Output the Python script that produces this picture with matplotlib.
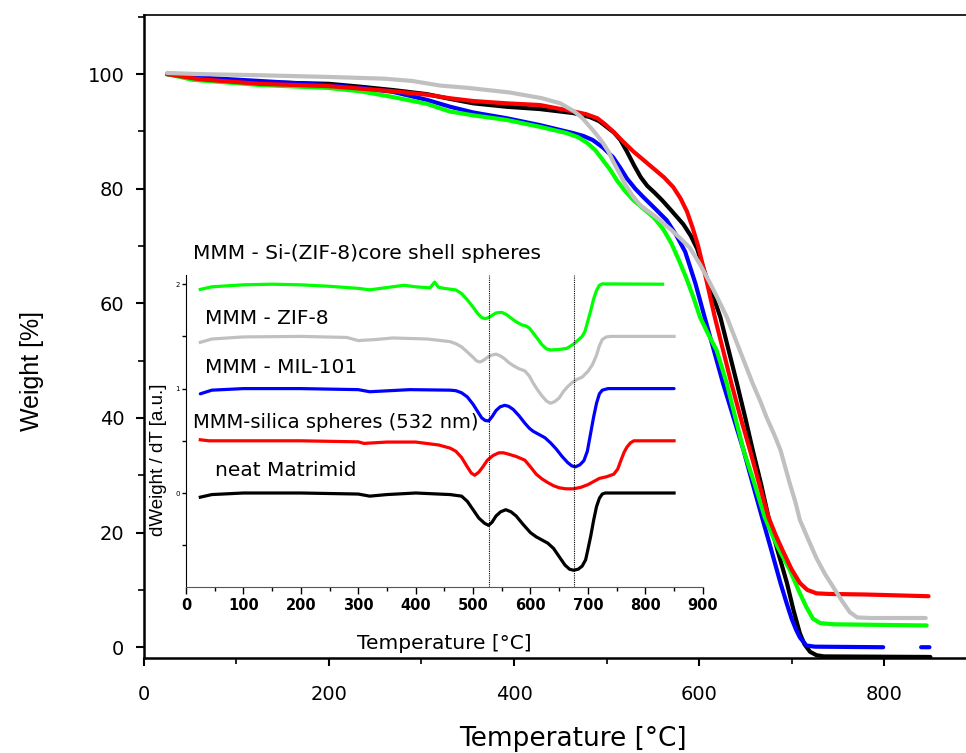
import numpy as np
import matplotlib.pyplot as plt
from matplotlib.ticker import MultipleLocator

# --- TGA curves (main plot): temperature [°C], weight [%] ---
black_T = [25, 60, 125, 200, 234, 270, 306, 330, 356, 392, 428, 464, 482, 492, 500, 508, 515, 522, 530, 537, 544,
           552, 560, 570, 583, 591, 598, 606, 614, 623, 632, 641, 650, 658, 667, 675, 685, 695, 702, 709, 714, 720,
           727, 735, 850]
black_W = [100, 99.3, 98.6, 98.3, 97.8, 97.2, 96.5, 95.7, 94.9, 94.3, 93.9, 93.2, 92.5, 91.8, 90.8, 89.8, 88.5,
           86.5, 84, 82, 80.5, 79.3, 78, 76.2, 73.8, 71.8, 69.5, 65.5, 61.8, 57.6, 51.8, 46, 40, 34.4, 28.5, 22.7,
           16.8, 11.2, 6.5, 2.4, 0.5, -0.8, -1.4, -1.6, -1.7]

red_T = [25, 60, 125, 200, 270, 306, 330, 356, 392, 428, 464, 478, 490, 498, 507, 518, 529, 540, 551, 562, 572,
         580, 587, 593, 599, 608, 617, 626, 635, 645, 655, 665, 675, 683, 690, 700, 709, 717, 727, 740, 780, 848]
red_W = [100, 99.1, 98.3, 97.9, 97.0, 96.4, 95.8, 95.3, 94.9, 94.6, 93.5, 93.0, 92.3, 91.3, 90, 88.2, 86.5, 85,
         83.5, 82, 80.3, 78.3, 76, 73.2, 70, 64, 57.6, 51.8, 46, 40, 34.4, 28.5, 22.7, 19.5, 17, 13.6, 11.2, 10,
         9.4, 9.3, 9.2, 8.9]

blue_T = [25, 60, 125, 198, 234, 269, 306, 331, 356, 392, 428, 464, 475, 485, 496, 507, 515, 522, 531, 540, 552,
          565, 575, 585, 596, 606, 616, 626, 637, 648, 658, 668, 678, 688, 695, 700, 705, 709, 716, 725, 799,
          np.nan, 840, 849]
blue_W = [100, 99.4, 98.8, 98.1, 97.6, 96.9, 95.5, 94.3, 93.3, 92.3, 91.1, 89.7, 89.2, 88.5, 87.2, 85.5, 83.6,
          81.8, 80, 78.5, 76.6, 74.5, 72, 69.0, 63.5, 57.6, 51.8, 46, 40.2, 34.4, 28.5, 22.7, 17, 11.2, 7.5, 5, 3,
          1.7, 0.3, 0.1, 0, np.nan, 0, 0]

green_T = [25, 53, 125, 198, 234, 269, 306, 330, 356, 392, 428, 457, 469, 479, 488, 496, 504, 511, 520, 529, 540,
           551, 561, 570, 578, 586, 594, 601, 610, 619, 630, 639, 648, 660, 671, 678, 685, 698, 709, 716, 723, 731,
           746, 846]
green_W = [100, 99.0, 98.1, 97.6, 97.0, 96.0, 94.8, 93.5, 92.8, 92.0, 90.8, 89.7, 89.0, 88.0, 86.7, 85.0, 83.3,
           81.5, 79.6, 78, 76.5, 75, 73, 70.5, 67.6, 64.5, 61, 57.6, 54.6, 51.8, 46, 40.2, 34.4, 28.5, 22.7, 20,
           17.5, 13.5, 9.4, 7, 5, 4.2, 4.0, 3.8]

gray_T = [25, 60, 125, 200, 260, 290, 320, 350, 395, 430, 450, 465, 474, 482, 489, 496, 502, 507, 514, 520, 528,
          536, 543, 550, 560, 570, 580, 590, 601, 612, 621, 630, 637, 644, 651, 658, 666, 673, 681, 688, 693, 698,
          704, 709, 718, 727, 736, 745, 754, 763, 771, 785, 845]
gray_W = [100.2, 100, 99.8, 99.5, 99.2, 98.8, 98.0, 97.6, 96.8, 95.8, 94.9, 93.5, 92.3, 90.8, 89.5, 88, 86.5,
          84.8, 82.7, 80.8, 78.8, 77.2, 76.3, 75.5, 74.2, 72.8, 71.3, 69.7, 66.8, 63.5, 60.6, 57.6, 54.7, 51.8,
          48.9, 46, 43, 40.1, 37.2, 34.4, 31.5, 28.6, 25.4, 22.2, 18.8, 15.5, 12.8, 10.5, 8.2, 6.1, 5.2, 5.1, 5.1]

# --- DTG curves (inset): temperature [°C], dW/dT relative to each curve's baseline [a.u.] ---
dtg_black_T = [25, 45, 100, 200, 300, 320, 350, 400, 460, 480, 490, 500, 510, 520, 527, 533, 540, 548, 557, 566,
               575, 587, 600, 610, 620, 630, 640, 650, 660, 668, 675, 683, 690, 696, 700, 705, 710, 715, 720, 725,
               730, 850]
dtg_black = [-0.04, -0.015, 0, 0, -0.01, -0.03, -0.015, 0, -0.015, -0.03, -0.08, -0.16, -0.24, -0.29, -0.31,
             -0.28, -0.22, -0.18, -0.16, -0.18, -0.22, -0.3, -0.38, -0.42, -0.45, -0.48, -0.53, -0.61, -0.69,
             -0.73, -0.74, -0.73, -0.70, -0.64, -0.54, -0.41, -0.26, -0.13, -0.05, -0.01, 0, 0]

dtg_red_T = [25, 40, 100, 200, 300, 310, 350, 400, 440, 460, 470, 480, 490, 497, 503, 510, 517, 525, 535, 545,
             553, 560, 575, 590, 600, 610, 620, 630, 640, 650, 662, 675, 688, 700, 710, 720, 732, 745, 752, 758,
             763, 768, 774, 780, 850]
dtg_red = [0.01, 0, 0, 0, -0.01, -0.025, -0.012, -0.012, -0.04, -0.07, -0.1, -0.16, -0.25, -0.31, -0.33, -0.30,
           -0.25, -0.185, -0.14, -0.115, -0.115, -0.125, -0.15, -0.185, -0.25, -0.32, -0.365, -0.40, -0.43, -0.45,
           -0.46, -0.46, -0.445, -0.42, -0.39, -0.36, -0.345, -0.32, -0.27, -0.18, -0.11, -0.06, -0.02, 0, 0]

dtg_blue_T = [25, 45, 100, 200, 300, 320, 390, 460, 470, 480, 490, 500, 508, 515, 521, 527, 533, 540, 547, 555,
              562, 570, 580, 590, 598, 605, 615, 625, 635, 645, 655, 665, 672, 678, 686, 693, 699, 705, 710, 715,
              720, 725, 735, 850]
dtg_blue = [-0.05, -0.015, 0, 0, -0.01, -0.03, -0.01, -0.015, -0.02, -0.04, -0.08, -0.15, -0.22, -0.28, -0.305,
            -0.31, -0.27, -0.21, -0.175, -0.16, -0.17, -0.2, -0.26, -0.33, -0.38, -0.41, -0.44, -0.47, -0.52,
            -0.58, -0.65, -0.71, -0.74, -0.75, -0.73, -0.69, -0.6, -0.42, -0.27, -0.14, -0.05, -0.015, 0, 0]

dtg_gray_T = [25, 45, 100, 200, 280, 300, 330, 360, 420, 460, 470, 480, 490, 500, 506, 512, 518, 525, 532, 540,
              547, 555, 562, 570, 580, 590, 598, 605, 612, 620, 628, 635, 642, 650, 657, 665, 672, 680, 690, 700,
              708, 715, 720, 725, 732, 740, 850]
dtg_gray = [-0.057, -0.025, -0.005, 0, -0.01, -0.04, -0.03, -0.015, -0.025, -0.05, -0.07, -0.1, -0.15, -0.2,
            -0.235, -0.245, -0.23, -0.2, -0.18, -0.17, -0.185, -0.215, -0.25, -0.28, -0.31, -0.33, -0.38, -0.45,
            -0.51, -0.57, -0.62, -0.64, -0.625, -0.59, -0.53, -0.48, -0.445, -0.415, -0.39, -0.335, -0.27, -0.18,
            -0.09, -0.03, -0.005, 0, 0]

dtg_green_T = [25, 45, 100, 150, 200, 250, 300, 320, 350, 380, 400, 425, 433, 440, 450, 470, 480, 490, 500, 508,
               515, 521, 527, 534, 540, 550, 558, 565, 575, 585, 592, 598, 605, 612, 620, 628, 635, 650, 663, 672,
               680, 690, 695, 700, 705, 710, 715, 720, 725, 830]
dtg_green = [-0.05, -0.025, -0.006, 0, -0.006, -0.02, -0.04, -0.054, -0.032, -0.01, -0.025, -0.035, 0.02, -0.03,
             -0.04, -0.055, -0.09, -0.15, -0.22, -0.28, -0.32, -0.33, -0.32, -0.295, -0.275, -0.27, -0.29, -0.32,
             -0.36, -0.39, -0.40, -0.42, -0.47, -0.52, -0.58, -0.62, -0.63, -0.625, -0.615, -0.585, -0.55, -0.5,
             -0.45, -0.35, -0.25, -0.14, -0.06, -0.01, 0.003, 0]

dtg_offsets = {'black': 0.0, 'red': 0.5, 'blue': 1.0, 'gray': 1.5, 'green': 2.0}
peak_T = [527, 675]

sample_labels = ['MMM - Si-(ZIF-8)core shell spheres', 'MMM - ZIF-8', 'MMM - MIL-101',
                 'MMM-silica spheres (532 nm)', 'neat Matrimid']

GREEN = '#00ff00'
GRAY = '#c0c0c0'
RED = '#ff0000'
BLUE = '#0000ff'

fig = plt.figure(figsize=(9.66, 7.53), dpi=100)

# main TGA axes (runs off the right edge of the figure, as in the original)
ax = fig.add_axes([0.149, 0.126, 0.862, 0.854])
lw = 3.0
ax.plot(black_T, black_W, color='black', lw=lw, solid_capstyle='round', solid_joinstyle='round')
ax.plot(blue_T, blue_W, color=BLUE, lw=lw, solid_capstyle='round', solid_joinstyle='round')
ax.plot(green_T, green_W, color=GREEN, lw=lw, solid_capstyle='round', solid_joinstyle='round')
ax.plot(red_T, red_W, color=RED, lw=lw, solid_capstyle='round', solid_joinstyle='round')
ax.plot(gray_T, gray_W, color=GRAY, lw=lw, solid_capstyle='round', solid_joinstyle='round')

ax.set_xlim(0, 900)
ax.set_ylim(-1.9, 110.3)
ax.xaxis.set_major_locator(MultipleLocator(200))
ax.xaxis.set_minor_locator(MultipleLocator(100))
ax.yaxis.set_major_locator(MultipleLocator(20))
ax.yaxis.set_minor_locator(MultipleLocator(10))
ax.spines['right'].set_visible(False)
for s in ['left', 'bottom']:
    ax.spines[s].set_linewidth(1.8)
ax.spines['top'].set_linewidth(1.2)
ax.tick_params(which='major', direction='out', length=6, width=1.5, labelsize=14, pad=13)
ax.tick_params(axis='y', which='major', pad=8)
ax.tick_params(which='minor', direction='out', length=4, width=1.2)
for t in ax.get_xticklabels() + ax.get_yticklabels():
    t.set_family('DejaVu Sans')

ax.set_xlabel('Temperature [°C]', fontsize=19, family='DejaVu Sans')
ax.xaxis.set_label_coords(0.515, -0.105)
ax.set_ylabel('Weight [%]', fontsize=18, family='Liberation Sans')
ax.yaxis.set_label_coords(-0.12, 0.446)

# inset DTG axes
ins = fig.add_axes([0.1925, 0.2205, 0.535, 0.414])
ins.patch.set_alpha(0)
ins.plot(dtg_black_T, np.array(dtg_black) + dtg_offsets['black'], color='black', lw=2.3)
ins.plot(dtg_red_T, np.array(dtg_red) + dtg_offsets['red'], color=RED, lw=2.3)
ins.plot(dtg_blue_T, np.array(dtg_blue) + dtg_offsets['blue'], color=BLUE, lw=2.3, solid_capstyle='round')
ins.plot(dtg_gray_T, np.array(dtg_gray) + dtg_offsets['gray'], color=GRAY, lw=2.3)
ins.plot(dtg_green_T, np.array(dtg_green) + dtg_offsets['green'], color=GREEN, lw=2.3)
for t in peak_T:
    ins.axvline(t, color='black', lw=0.8, ls=(0, (1, 1)))

ins.set_xlim(0, 900)
ins.set_ylim(-0.9, 2.086)
ins.xaxis.set_major_locator(MultipleLocator(100))
ins.xaxis.set_minor_locator(MultipleLocator(50))
ins.set_yticks([0, 1, 2])
ins.set_yticklabels(['0', '1', '2'])
ins.yaxis.set_minor_locator(MultipleLocator(0.5))
ins.spines['top'].set_visible(False)
ins.spines['right'].set_visible(False)
ins.spines['bottom'].set_color('#555555')
ins.tick_params(axis='x', which='major', direction='out', length=5, width=1, labelsize=10.5, pad=3)
ins.tick_params(axis='x', which='minor', direction='out', length=3, width=1)
ins.tick_params(axis='y', which='both', direction='out', length=3, width=1, labelsize=5, pad=1.5)
for t in ins.get_xticklabels():
    t.set_family('DejaVu Sans')
    t.set_fontweight('bold')

ins.set_xlabel('Temperature [°C]', fontsize=14.5, family='DejaVu Sans')
ins.xaxis.set_label_coords(0.50, -0.15)
ins.set_ylabel('dWeight / dT [a.u.]', fontsize=13.5, family='Liberation Sans')
ins.yaxis.set_label_coords(-0.036, 0.407)

label_pos = [(0.0135, 1.07), (0.037, 0.862), (0.037, 0.705), (0.0135, 0.526), (0.056, 0.375)]
label_size = [14.5, 14.5, 14.5, 14, 14.5]
for txt, (lx, ly), fs in zip(sample_labels, label_pos, label_size):
    ins.text(lx, ly, txt, transform=ins.transAxes, ha='left', va='center',
             fontsize=fs, family='DejaVu Sans')

fig.savefig('out.png', dpi=100)
